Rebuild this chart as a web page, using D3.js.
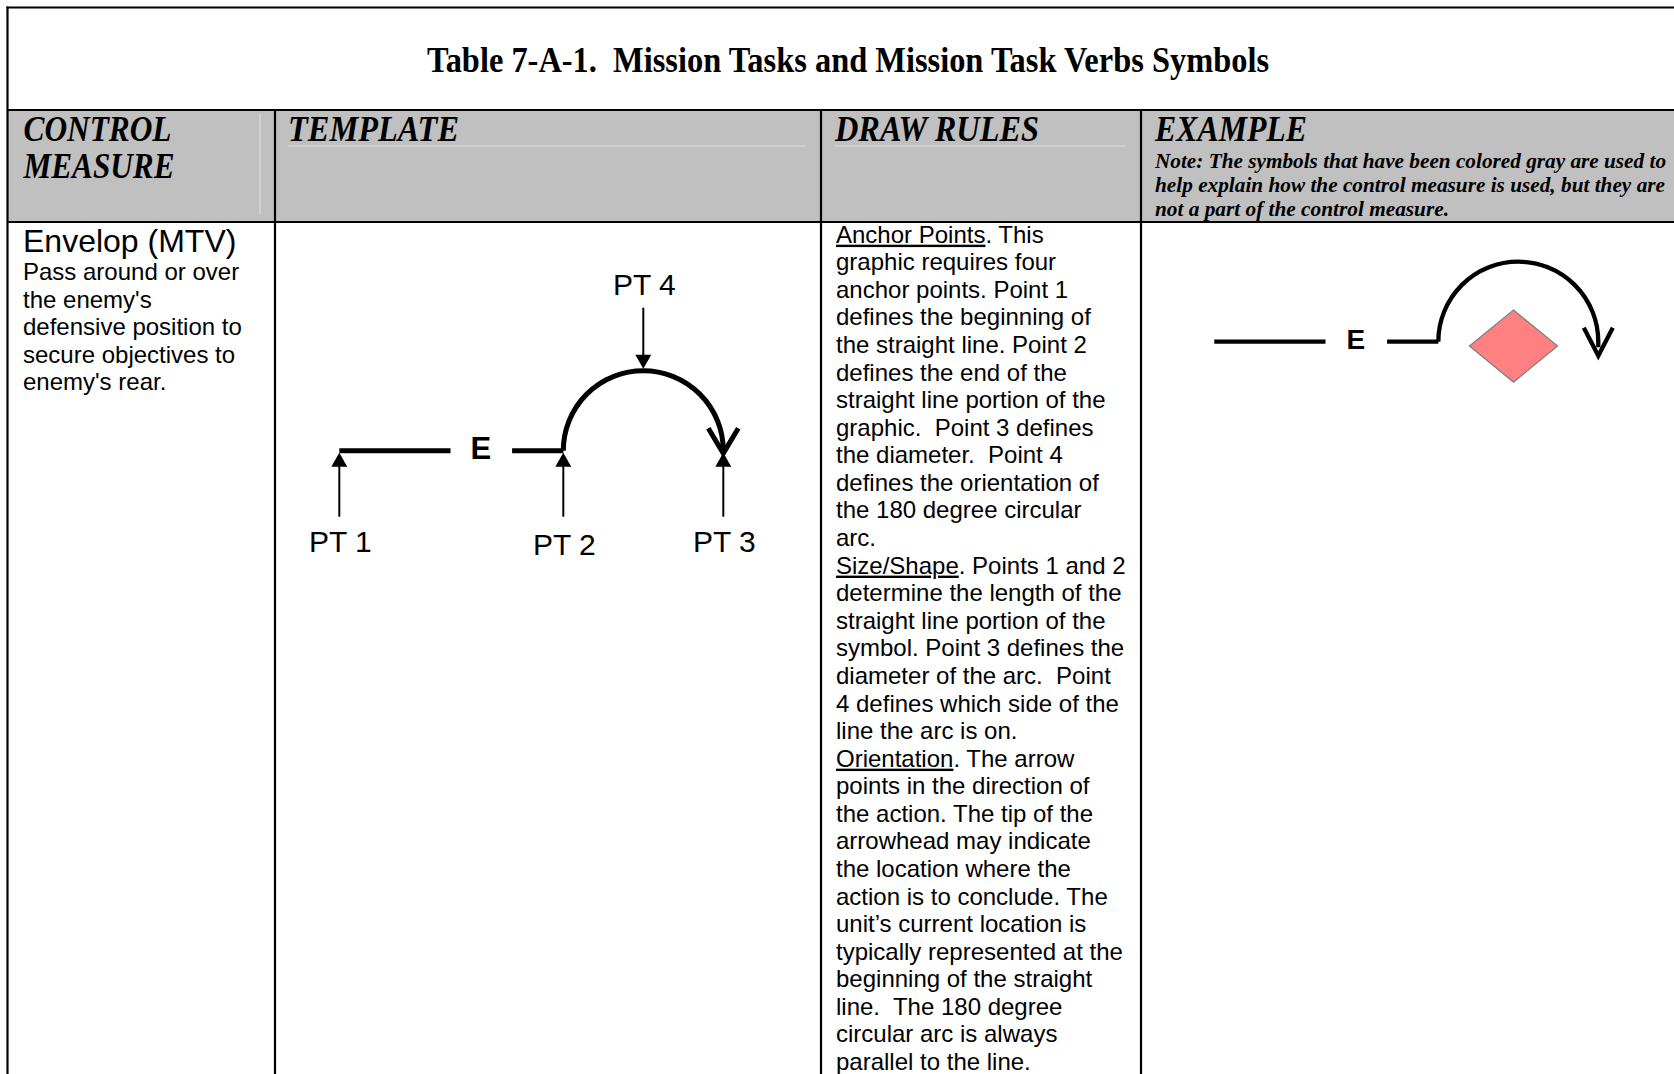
<!DOCTYPE html>
<html>
<head>
<meta charset="utf-8">
<script src="https://cdn.jsdelivr.net/npm/d3@7"></script>
<style>
  html, body { margin: 0; padding: 0; background: #fff; }
  svg { display: block; }
  text { white-space: pre; }
</style>
</head>
<body>
<script>
// ---------- data ----------
const titleText = "Table 7-A-1.  Mission Tasks and Mission Task Verbs Symbols";
const columnNames = ["CONTROL MEASURE", "TEMPLATE", "DRAW RULES", "EXAMPLE"];
const headerLines = [
  { col: 0, row: 0, text: "CONTROL", len: 148 },
  { col: 0, row: 1, text: "MEASURE", len: 151 },
  { col: 1, row: 0, text: "TEMPLATE", len: 171 },
  { col: 2, row: 0, text: "DRAW RULES", len: 204 },
  { col: 3, row: 0, text: "EXAMPLE", len: 152 }
];
const noteLines = [
  "Note: The symbols that have been colored gray are used to",
  "help explain how the control measure is used, but they are",
  "not a part of the control measure."
];
const noteLengths = [511, 510, 294];
const measureName = "Envelop (MTV)";
const measureDesc = [
  "Pass around or over",
  "the enemy's",
  "defensive position to",
  "secure objectives to",
  "enemy's rear."
];
const drawRules = [
  ["Anchor Points", ". This"],
  ["", "graphic requires four"],
  ["", "anchor points. Point 1"],
  ["", "defines the beginning of"],
  ["", "the straight line. Point 2"],
  ["", "defines the end of the"],
  ["", "straight line portion of the"],
  ["", "graphic.  Point 3 defines"],
  ["", "the diameter.  Point 4"],
  ["", "defines the orientation of"],
  ["", "the 180 degree circular"],
  ["", "arc."],
  ["Size/Shape", ". Points 1 and 2"],
  ["", "determine the length of the"],
  ["", "straight line portion of the"],
  ["", "symbol. Point 3 defines the"],
  ["", "diameter of the arc.  Point"],
  ["", "4 defines which side of the"],
  ["", "line the arc is on."],
  ["Orientation", ". The arrow"],
  ["", "points in the direction of"],
  ["", "the action. The tip of the"],
  ["", "arrowhead may indicate"],
  ["", "the location where the"],
  ["", "action is to conclude. The"],
  ["", "unit\u2019s current location is"],
  ["", "typically represented at the"],
  ["", "beginning of the straight"],
  ["", "line.  The 180 degree"],
  ["", "circular arc is always"],
  ["", "parallel to the line."]
];
// symbol geometry in arc-radius units (0 = start of straight line)
const lineSegments = [[0, 1.39], [2.16, 2.8]];
const labelE = { x: 1.77, text: "E" };
const arcSpan = [2.8, 4.8];
const anchorPoints = [
  { name: "PT 1", x: 0,   side: "below", labelDy: 0 },
  { name: "PT 2", x: 2.8, side: "below", labelDy: 0.04 },
  { name: "PT 3", x: 4.8, side: "below", labelDy: 0 },
  { name: "PT 4", x: 3.8, side: "above", labelDy: 0 }
];
const enemyDiamond = { x: 3.74, y: -0.055, hw: 0.55, hh: 0.45 };

// ---------- layout ----------
const W = 1674, H = 1074;
const colX = [7.5, 275, 821, 1141, W + 10];
const titleY = 7.5, headTop = 110, headBottom = 222;
const sans = "'Liberation Sans', Arial, sans-serif";
const serif = "'Liberation Serif', 'Times New Roman', serif";

const svg = d3.select("body").append("svg").attr("width", W).attr("height", H);

// header background
svg.append("rect").attr("x", colX[0]).attr("y", headTop).attr("width", W - colX[0]).attr("height", headBottom - headTop)
  .attr("fill", "#c0c0c0");
// faint inner header rules
const faint = svg.append("g").attr("stroke", "#dcdcdc").attr("stroke-width", 1.2);
faint.append("line").attr("x1", 260).attr("x2", 260).attr("y1", 114).attr("y2", 214);
faint.append("line").attr("x1", 288).attr("x2", 806).attr("y1", 146).attr("y2", 146);
faint.append("line").attr("x1", 835).attr("x2", 1126).attr("y1", 146).attr("y2", 146);

// grid lines
const grid = svg.append("g").attr("stroke", "#000").attr("stroke-width", 2.2).attr("fill", "none");
grid.append("line").attr("x1", colX[0] - 1).attr("x2", W).attr("y1", titleY).attr("y2", titleY);
grid.append("line").attr("x1", colX[0]).attr("x2", colX[0]).attr("y1", titleY - 1).attr("y2", H);
[headTop, headBottom].forEach(y => grid.append("line").attr("x1", colX[0]).attr("x2", W).attr("y1", y).attr("y2", y));
colX.slice(1, 4).forEach(x => grid.append("line").attr("x1", x).attr("x2", x).attr("y1", headTop).attr("y2", H));

// title
svg.append("text").attr("x", 427).attr("y", 71.5).attr("font-family", serif).attr("font-weight", "bold")
  .attr("font-size", 35).attr("textLength", 842).attr("lengthAdjust", "spacingAndGlyphs").text(titleText);

// header labels
const headBase = d3.scaleLinear().domain([0, 1]).range([141, 178]);
const headPad = [16, 13, 14, 14];
svg.append("g").selectAll("text").data(headerLines).join("text")
  .attr("x", d => colX[d.col] + headPad[d.col])
  .attr("y", d => headBase(d.row))
  .attr("font-family", serif).attr("font-weight", "bold").attr("font-style", "italic")
  .attr("font-size", 35).attr("textLength", d => d.len).attr("lengthAdjust", "spacingAndGlyphs")
  .text(d => d.text);
const noteBase = d3.scaleLinear().domain([0, 1]).range([167.6, 191.6]);
svg.append("g").selectAll("text").data(noteLines).join("text")
  .attr("x", colX[3] + 14).attr("y", (d, i) => noteBase(i))
  .attr("font-family", serif).attr("font-weight", "bold").attr("font-style", "italic")
  .attr("font-size", 21).attr("textLength", (d, i) => noteLengths[i]).attr("lengthAdjust", "spacingAndGlyphs")
  .text(d => d);

// control measure column
svg.append("text").attr("x", 23).attr("y", 252.3).attr("font-family", sans).attr("font-size", 32).text(measureName);
const descY = d3.scaleLinear().domain([0, 1]).range([280, 307.5]);
svg.append("g").selectAll("text").data(measureDesc).join("text")
  .attr("x", 23).attr("y", (d, i) => descY(i)).attr("font-family", sans).attr("font-size", 24).text(d => d);

// draw rules column
const ruleY = d3.scaleLinear().domain([0, drawRules.length - 1]).range([242.7, 1070]);
const rules = svg.append("g").selectAll("text").data(drawRules).join("text")
  .attr("x", 836).attr("y", (d, i) => ruleY(i)).attr("font-family", sans).attr("font-size", 24);
rules.each(function (d) {
  const t = d3.select(this);
  if (d[0]) t.append("tspan").attr("text-decoration", "underline").text(d[0]);
  t.append("tspan").text(d[1]);
});

// ---------- symbol drawing ----------
function drawSymbol(g, xs, ys, opts) {
  const r = xs(1) - xs(0);
  const y0 = ys(0);
  g.selectAll("line.seg").data(lineSegments).join("line").attr("class", "seg")
    .attr("x1", d => xs(d[0])).attr("x2", d => xs(d[1])).attr("y1", y0).attr("y2", y0)
    .attr("stroke", "#000").attr("stroke-width", opts.sw);
  g.append("text").attr("x", xs(labelE.x)).attr("y", y0 + opts.eDy).attr("text-anchor", "middle")
    .attr("font-family", sans).attr("font-weight", "bold").attr("font-size", opts.eSize).text(labelE.text);
  const cx = (xs(arcSpan[0]) + xs(arcSpan[1])) / 2;
  const p = d3.path();
  p.moveTo(xs(arcSpan[0]), y0);
  p.arc(cx, y0, r, Math.PI, 2 * Math.PI, false);
  p.lineTo(xs(arcSpan[1]), y0 + opts.tip * 0.4);
  g.append("path").attr("d", p.toString()).attr("fill", "none").attr("stroke", "#000").attr("stroke-width", opts.sw);
  const tx = xs(arcSpan[1]), ty = y0 + opts.tip;
  g.append("path")
    .attr("d", `M${tx - opts.chevW},${ty - opts.chevH} L${tx},${ty} L${tx + opts.chevW},${ty - opts.chevH}`)
    .attr("fill", "none").attr("stroke", "#000").attr("stroke-width", opts.sw).attr("stroke-linejoin", "miter");
}

// template
const tX = d3.scaleLinear().domain([0, 1]).range([339.3, 419.3]);
const tY = d3.scaleLinear().domain([0, 1]).range([450.7, 370.7]);
const tpl = svg.append("g");
drawSymbol(tpl, tX, tY, { sw: 5, eDy: 8.6, eSize: 31, tip: 2.6, chevW: 15, chevH: 25 });

// anchor arrows
const arrowLen = 64, headL = 14, headW = 8;
anchorPoints.forEach(a => {
  const x = tX(a.x);
  if (a.side === "below") {
    const tipY = tY(0) + 2;
    tpl.append("line").attr("x1", x).attr("x2", x).attr("y1", tipY + headL - 1).attr("y2", tipY + arrowLen)
      .attr("stroke", "#000").attr("stroke-width", 2);
    tpl.append("path").attr("d", `M${x},${tipY} L${x - headW},${tipY + headL} L${x + headW},${tipY + headL}Z`).attr("fill", "#000");
    tpl.append("text").attr("x", x + 1).attr("y", tipY + 99.5 + a.labelDy * 80).attr("text-anchor", "middle")
      .attr("font-family", sans).attr("font-size", 30).text(a.name);
  } else {
    const tipY = tY(1) - 2;
    tpl.append("line").attr("x1", x).attr("x2", x).attr("y1", tipY - headL + 1).attr("y2", tipY - 61)
      .attr("stroke", "#000").attr("stroke-width", 2);
    tpl.append("path").attr("d", `M${x},${tipY} L${x - headW},${tipY - headL} L${x + headW},${tipY - headL}Z`).attr("fill", "#000");
    tpl.append("text").attr("x", x + 1).attr("y", tipY - 73.5).attr("text-anchor", "middle")
      .attr("font-family", sans).attr("font-size", 30).text(a.name);
  }
});

// example
const eX = d3.scaleLinear().domain([0, 1]).range([1214.3, 1294.3]);
const eY = d3.scaleLinear().domain([0, 1]).range([341.7, 261.7]);
const ex = svg.append("g");
const d = enemyDiamond;
ex.append("path")
  .attr("d", `M${eX(d.x)},${eY(d.y + d.hh)} L${eX(d.x + d.hw)},${eY(d.y)} L${eX(d.x)},${eY(d.y - d.hh)} L${eX(d.x - d.hw)},${eY(d.y)}Z`)
  .attr("fill", "#ff8080").attr("stroke", "#808080").attr("stroke-width", 1.3);
drawSymbol(ex, eX, eY, { sw: 4.3, eDy: 7.6, eSize: 28, tip: 14, chevW: 14.5, chevH: 28 });
</script>
</body>
</html>
